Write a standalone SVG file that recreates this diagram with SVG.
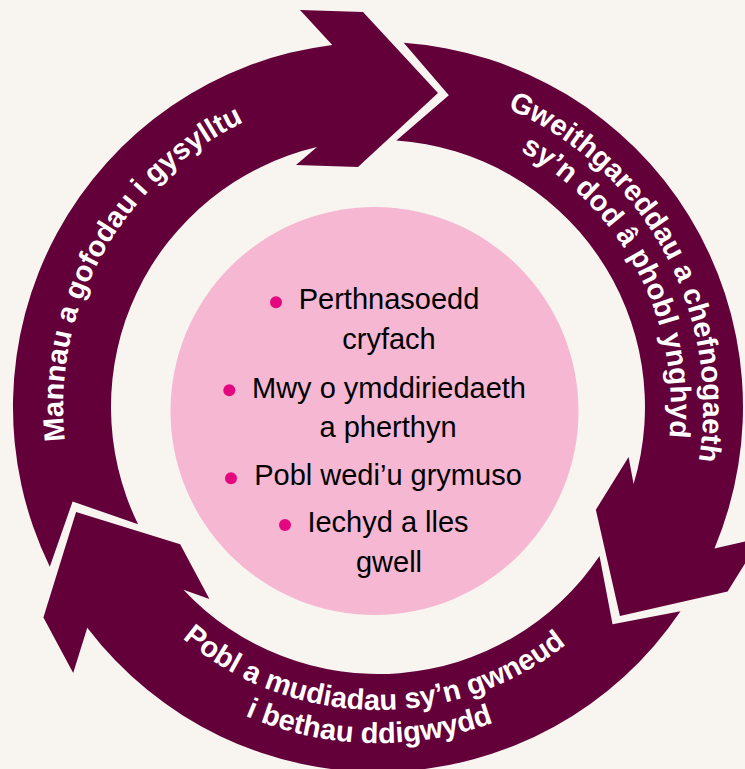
<svg xmlns="http://www.w3.org/2000/svg" xmlns:xlink="http://www.w3.org/1999/xlink" width="745" height="769" viewBox="0 0 745 769">
<style>
.arrow{fill:#63003a}
.lbl{font-family:"Liberation Sans",Arial,sans-serif;font-weight:bold;font-size:29px;fill:#ffffff}
.item{font-family:"Liberation Sans",Arial,sans-serif;font-size:29px;fill:#000000;text-anchor:middle}
.bullet{fill:#e5077f}
</style>
<defs>
<path id="arrowShape" d="M 49.8 566.8 A 365 365 0 0 1 332.25 44.9 L 300 10 L 363 12 L 438 93 L 358 167 L 296 165 L 317 147.1 A 267 267 0 0 0 138.1 524.3 L 72.6 501.5 Z"/>
<path id="p1" d="M 200.5 667.2 A 315 315 0 0 1 507.6 119.9"/>
<path id="p2a" d="M 248.4 108.9 A 325 325 0 0 1 557.4 678.0"/>
<path id="p2b" d="M 265.9 136.3 A 293 293 0 0 1 535.4 654.1"/>
<path id="p3a" d="M 75.8 428.7 A 303 303 0 0 0 679.4 438.1"/>
<path id="p3b" d="M 42.6 426.9 A 336 336 0 0 0 711.8 445.6"/>
</defs>
<rect x="0" y="0" width="745" height="769" fill="#f8f5f0"/>
<g id="connectors"></g>
<g id="node-mannau">
<use xlink:href="#arrowShape" href="#arrowShape" class="arrow"/>
<text class="lbl"><textPath xlink:href="#p1" href="#p1" startOffset="50%" text-anchor="middle">Mannau a gofodau i gysylltu</textPath></text>
</g>
<g id="node-gweithgareddau">
<use xlink:href="#arrowShape" href="#arrowShape" class="arrow" transform="rotate(120 378 407)"/>
<text class="lbl"><textPath xlink:href="#p2a" href="#p2a" startOffset="50%" text-anchor="middle">Gweithgareddau a chefnogaeth</textPath></text>
<text class="lbl"><textPath xlink:href="#p2b" href="#p2b" startOffset="50%" text-anchor="middle">sy’n dod â phobl ynghyd</textPath></text>
</g>
<g id="node-pobl">
<use xlink:href="#arrowShape" href="#arrowShape" class="arrow" transform="rotate(240 378 407)"/>
<text class="lbl"><textPath xlink:href="#p3a" href="#p3a" startOffset="50%" text-anchor="middle">Pobl a mudiadau sy’n gwneud</textPath></text>
<text class="lbl"><textPath xlink:href="#p3b" href="#p3b" startOffset="50%" text-anchor="middle">i bethau ddigwydd</textPath></text>
</g>
<g id="node-outcomes">
<circle cx="374.5" cy="411" r="204" fill="#f5b7d2"/>
<circle class="bullet" cx="276" cy="302.3" r="6"/>
<text class="item" x="389" y="309.3">Perthnasoedd</text>
<text class="item" x="389" y="349.3">cryfach</text>
<circle class="bullet" cx="229.3" cy="390.3" r="6"/>
<text class="item" x="389" y="398">Mwy o ymddiriedaeth</text>
<text class="item" x="388" y="437">a pherthyn</text>
<circle class="bullet" cx="231" cy="478.3" r="6"/>
<text class="item" x="388" y="485">Pobl wedi’u grymuso</text>
<circle class="bullet" cx="285" cy="525" r="6"/>
<text class="item" x="388" y="532.3">Iechyd a lles</text>
<text class="item" x="389" y="571.7">gwell</text>
</g>
</svg>
